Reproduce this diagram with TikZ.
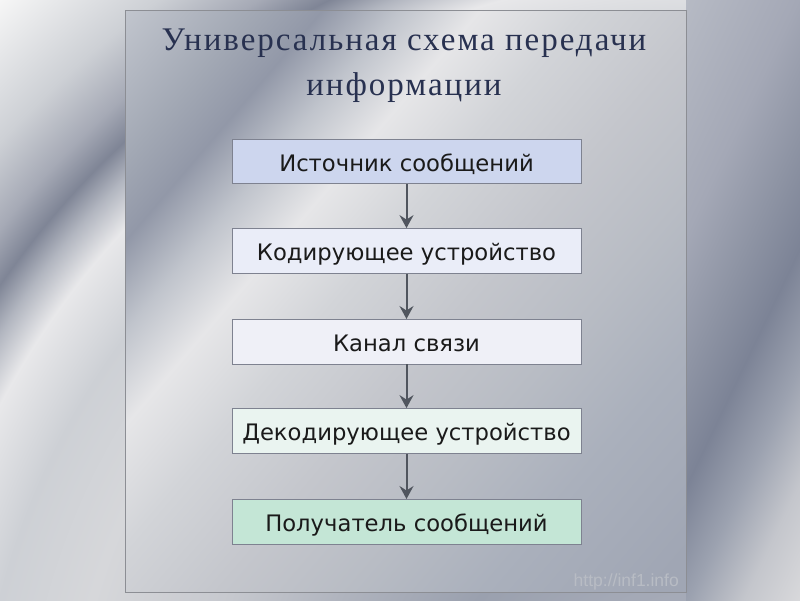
\documentclass[tikz,border=0pt]{standalone}
\usepackage{fontspec}
\setmainfont{Liberation Serif}
\newfontfamily\titlefont[LetterSpace=6]{Liberation Serif}
\newfontfamily\boxfont{DejaVu Sans}
\newfontfamily\wmfont{Liberation Sans}
\usetikzlibrary{arrows.meta}

\definecolor{c0}{HTML}{B4B8C2}
\definecolor{c1}{HTML}{A4A9B6}
\definecolor{c2}{HTML}{9AA0AE}
\definecolor{c3}{HTML}{B0B4BE}
\definecolor{c4}{HTML}{C6C8CE}
\definecolor{c5}{HTML}{D6D7DA}
\definecolor{c6}{HTML}{CDD0D5}
\definecolor{c7}{HTML}{E8E8EA}
\definecolor{c8}{HTML}{B2B6C0}
\definecolor{c9}{HTML}{7F8596}
\definecolor{c10}{HTML}{A6AAB6}
\definecolor{c11}{HTML}{CDD0D5}
\definecolor{c12}{HTML}{F6F6F6}
\definecolor{c13}{HTML}{F8F8F8}

\definecolor{r0}{HTML}{B6BAC4}
\definecolor{r1}{HTML}{A4A8B6}
\definecolor{r2}{HTML}{8E94A4}
\definecolor{r3}{HTML}{7C8396}
\definecolor{r4}{HTML}{9CA2B0}
\definecolor{r5}{HTML}{C4C6CC}
\definecolor{r6}{HTML}{DCDCDE}

\definecolor{f0}{HTML}{C2C6CE}
\definecolor{f1}{HTML}{A2A8B4}
\definecolor{f2}{HTML}{9298A8}
\definecolor{f3}{HTML}{C0C4CC}
\definecolor{f4}{HTML}{E6E6E8}
\definecolor{f5}{HTML}{D2D4D8}
\definecolor{f6}{HTML}{C4C6CC}
\definecolor{f7}{HTML}{B8BCC4}
\definecolor{f8}{HTML}{AAB0BC}
\definecolor{f9}{HTML}{A0A6B4}

\definecolor{frameline}{HTML}{8C8E94}
\definecolor{boxline}{HTML}{7E8290}
\definecolor{arrowc}{HTML}{50555E}
\definecolor{textc}{HTML}{1A1A1A}
\definecolor{titlec}{HTML}{283150}
\definecolor{wmc}{HTML}{B8BCC4}
\definecolor{fillA}{HTML}{CDD6EE}
\definecolor{fillB}{HTML}{EAEDF8}
\definecolor{fillC}{HTML}{EFF0F7}
\definecolor{fillD}{HTML}{EAF4F0}
\definecolor{fillE}{HTML}{C4E6D6}

\pgfdeclareradialshading{silverradial}{\pgfpoint{0bp}{0bp}}{%
color(0bp)=(c0); color(4.55bp)=(c1); color(6.82bp)=(c2); color(9.55bp)=(c3);
color(11.82bp)=(c4); color(14.77bp)=(c5); color(16.82bp)=(c6); color(18.41bp)=(c7);
color(19.2bp)=(c8); color(19.82bp)=(c9); color(20.57bp)=(c10); color(21.82bp)=(c11);
color(24.09bp)=(c12); color(25bp)=(c13); color(50bp)=(c13)}

\pgfdeclarehorizontalshading{rightband}{100bp}{%
color(0bp)=(r0); color(25bp)=(r0); color(38.6bp)=(r1); color(46.7bp)=(r2);
color(53.3bp)=(r3); color(60.2bp)=(r4); color(66.9bp)=(r5); color(75bp)=(r6);
color(100bp)=(r6)}

\pgfdeclarehorizontalshading{frameband}{100bp}{%
color(0bp)=(f0); color(25.3bp)=(f0); color(31.4bp)=(f1); color(34.57bp)=(f2);
color(38.11bp)=(f3); color(41.83bp)=(f4); color(46.65bp)=(f5); color(52.75bp)=(f6);
color(58.84bp)=(f7); color(64.94bp)=(f8); color(72.87bp)=(f9); color(100bp)=(f9)}

\tikzset{
  flowbox/.style={draw=boxline, line width=0.9pt, minimum width=349pt,
    minimum height=44.5pt, inner sep=0pt, text height=20pt, text depth=0pt,
    font=\boxfont\fontsize{22.7}{27}\selectfont, text=textc},
  flowarrow/.style={draw=arrowc, line width=2pt,
    -{Stealth[length=13pt,width=14pt,inset=4.5pt]}},
  titletext/.style={anchor=base, inner sep=0pt, text=titlec,
    font=\titlefont\fontsize{33}{40}\selectfont}
}

\begin{document}
\begin{tikzpicture}[x=1pt,y=-1pt]
\useasboundingbox (0,0) rectangle (800,600);
% background
\begin{scope}
  \clip (0,0) rectangle (800,600);
  \fill[c13] (0,0) rectangle (800,600);
  \shade[shading=silverradial] (717,781) circle (1100pt);
\end{scope}
\begin{scope}
  \clip (686,0) rectangle (800,600);
  \begin{scope}[transform canvas={rotate=-25.56}]
    \shade[shading=rightband] (619pt,-250pt) rectangle (990pt,350pt);
  \end{scope}
\end{scope}
% frame interior
\begin{scope}
  \clip (125,10) rectangle (686,592);
  \begin{scope}[transform canvas={rotate=-40.54}]
    \shade[shading=frameband] (95pt,-375pt) rectangle (915pt,445pt);
  \end{scope}
\end{scope}
% frame
\draw[frameline, line width=1pt] (125,10) rectangle (686,592);
% title
\node[titletext] (t1) at (404,50) {Универсальная схема передачи};
\node[titletext] (t2) at (404,95) {информации};
% boxes
\node[flowbox, fill=fillA] (b1) at (406.5,161.3) {Источник сообщений};
\node[flowbox, fill=fillB] (b2) at (406.5,250.8) {Кодирующее устройство};
\node[flowbox, fill=fillC] (b3) at (406.5,341.7) {Канал связи};
\node[flowbox, fill=fillD] (b4) at (406.5,430.8) {Декодирующее устройство};
\node[flowbox, fill=fillE] (b5) at (406.5,521.7) {Получатель сообщений};
% arrows
\draw[flowarrow] (b1.south) -- (b2.north);
\draw[flowarrow] (b2.south) -- (b3.north);
\draw[flowarrow] (b3.south) -- (b4.north);
\draw[flowarrow] (b4.south) -- (b5.north);
% watermark
\node[anchor=base east, inner sep=0pt, text=wmc,
  font=\wmfont\fontsize{17.5}{20}\selectfont] (wm) at (679,586) {http://inf1.info};
\end{tikzpicture}
\end{document}
